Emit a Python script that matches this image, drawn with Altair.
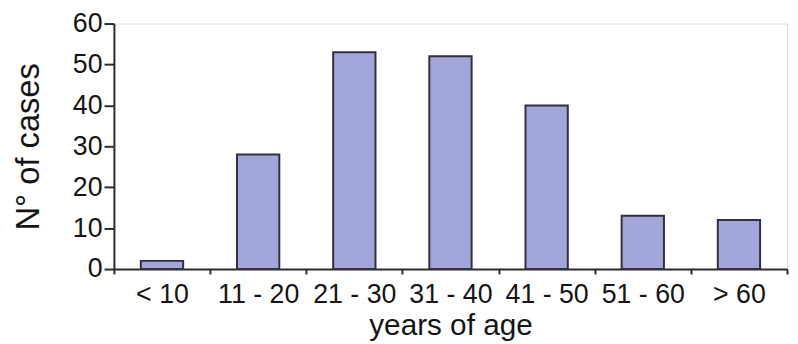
import altair as alt
import pandas as pd

categories = ["< 10", "11 - 20", "21 - 30", "31 - 40", "41 - 50", "51 - 60", "> 60"]
cases = [2, 28, 53, 52, 40, 13, 12]

df = pd.DataFrame({"age": categories, "cases": cases})

FONT = "Liberation Sans"
AXIS_COLOR = "#2b2b2b"
TEXT_COLOR = "#151515"

chart = (
    alt.Chart(df)
    .mark_bar(
        width=alt.RelativeBandSize(0.44),
        fill="#a3a6d8",
        stroke="#30303f",
        strokeWidth=2,
    )
    .encode(
        x=alt.X(
            "age:N",
            sort=categories,
            scale=alt.Scale(paddingInner=0, paddingOuter=0),
            axis=alt.Axis(
                title="years of age",
                labelAngle=0,
                tickBand="extent",
                tickSize=5,
                tickWidth=2,
                tickColor=AXIS_COLOR,
                domainColor=AXIS_COLOR,
                domainWidth=2,
                labelFont=FONT,
                labelFontSize=27,
                labelColor=TEXT_COLOR,
                labelPadding=8,
                titleFont=FONT,
                titleFontSize=30,
                titleFontWeight="normal",
                titleColor=TEXT_COLOR,
                titlePadding=3,
                grid=False,
            ),
        ),
        y=alt.Y(
            "cases:Q",
            scale=alt.Scale(domain=[0, 60], nice=False),
            axis=alt.Axis(
                title="N° of cases",
                values=[0, 10, 20, 30, 40, 50, 60],
                tickSize=10,
                tickWidth=2,
                tickColor=AXIS_COLOR,
                domainColor=AXIS_COLOR,
                domainWidth=2,
                labelFont=FONT,
                labelFontSize=27,
                labelColor=TEXT_COLOR,
                labelPadding=2,
                titleFont=FONT,
                titleFontSize=33,
                titleFontWeight="normal",
                titleColor=TEXT_COLOR,
                titlePadding=27,
                grid=False,
            ),
        ),
    )
    .properties(
        width=680,
        height=248,
        autosize=alt.AutoSizeParams(type="none"),
        padding={"left": 107, "top": 14, "right": 3, "bottom": 74},
    )
    .configure_view(stroke=None)
    .configure(background="white")
)

chart.save("out.html", embed_options={"renderer": "svg", "actions": False})
